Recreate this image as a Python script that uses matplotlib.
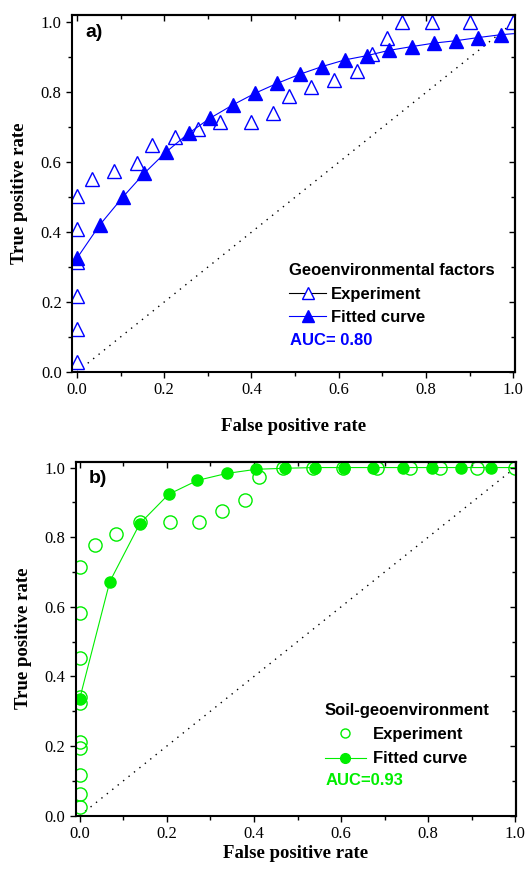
import matplotlib
matplotlib.use('Agg')
import matplotlib.pyplot as plt
from matplotlib.lines import Line2D
from matplotlib.ticker import MultipleLocator

# ---- panel a: geoenvironmental factors ----
a_exp_x = [0.0, 0.0, 0.0, 0.0, 0.0, 0.0, 0.034, 0.086, 0.137, 0.173, 0.225, 0.277,
           0.328, 0.399, 0.450, 0.485, 0.537, 0.589, 0.641, 0.676, 0.710, 0.744,
           0.813, 0.900, 1.0]
a_exp_y = [0.027, 0.124, 0.218, 0.315, 0.408, 0.503, 0.551, 0.576, 0.599, 0.648, 0.672, 0.694,
           0.716, 0.716, 0.740, 0.791, 0.814, 0.836, 0.862, 0.909, 0.955, 1.0,
           1.0, 1.0, 1.0]
a_fit_x = [0.0, 0.052, 0.105, 0.154, 0.204, 0.256, 0.305, 0.357, 0.409, 0.459, 0.511,
           0.562, 0.614, 0.664, 0.714, 0.767, 0.818, 0.869, 0.920, 0.971, 1.0]
a_fit_y = [0.325, 0.420, 0.500, 0.568, 0.629, 0.683, 0.726, 0.764, 0.798, 0.826, 0.852,
           0.874, 0.893, 0.905, 0.920, 0.931, 0.941, 0.948, 0.957, 0.965, 0.968]

# ---- panel b: soil-geoenvironment ----
b_exp_x = [0.0, 0.0, 0.0, 0.0, 0.0, 0.0, 0.0, 0.0, 0.0, 0.0, 0.034, 0.084, 0.138,
           0.207, 0.274, 0.326, 0.379, 0.412, 0.467, 0.536, 0.605, 0.682, 0.759,
           0.828, 0.913, 1.0]
b_exp_y = [0.026, 0.062, 0.117, 0.194, 0.213, 0.323, 0.340, 0.453, 0.582, 0.714, 0.777, 0.810, 0.844,
           0.843, 0.843, 0.875, 0.906, 0.974, 1.0, 1.0, 1.0, 1.0, 1.0,
           1.0, 1.0, 1.0]
b_fit_x = [0.0, 0.069, 0.138, 0.204, 0.270, 0.337, 0.405, 0.472, 0.539, 0.606, 0.674,
           0.741, 0.809, 0.876, 0.943, 1.0]
b_fit_y = [0.336, 0.672, 0.839, 0.923, 0.963, 0.983, 0.995, 0.998, 1.0, 1.0, 1.0,
           1.0, 1.0, 1.0, 1.0, 1.0]

BLUE = '#0000ff'
GREEN = '#00ee00'
SERIF = 'Liberation Serif'
SANS = 'Liberation Sans'
LEG_SIZE = 12

fig = plt.figure(figsize=(5.3, 8.71), dpi=100)


def style_axes(ax, xlim, ylim):
    ax.set_xlim(*xlim)
    ax.set_ylim(*ylim)
    ax.xaxis.set_major_locator(MultipleLocator(0.2))
    ax.xaxis.set_minor_locator(MultipleLocator(0.1))
    ax.yaxis.set_major_locator(MultipleLocator(0.2))
    ax.yaxis.set_minor_locator(MultipleLocator(0.1))
    for s in ax.spines.values():
        s.set_linewidth(1.5)
    # bottom/left ticks point out, top/right point in (Origin style)
    ax.tick_params(which='both', bottom=True, left=True, top=False, right=False,
                   direction='out', width=1.0, labelsize=12)
    ax.tick_params(which='major', length=4)
    ax.tick_params(which='minor', length=3)
    for lab in ax.get_xticklabels() + ax.get_yticklabels():
        lab.set_fontfamily(SERIF)
    ax.xaxis.set_major_formatter(lambda v, p: f'{v:.1f}')
    ax.yaxis.set_major_formatter(lambda v, p: f'{v:.1f}')
    sec_x = ax.secondary_xaxis('top')
    sec_y = ax.secondary_yaxis('right')
    sec_x.xaxis.set_major_locator(MultipleLocator(0.2))
    sec_x.xaxis.set_minor_locator(MultipleLocator(0.1))
    sec_y.yaxis.set_major_locator(MultipleLocator(0.2))
    sec_y.yaxis.set_minor_locator(MultipleLocator(0.1))
    for sec in (sec_x, sec_y):
        sec.tick_params(which='both', direction='in', width=1.0, labelsize=0)
        sec.tick_params(which='major', length=4)
        sec.tick_params(which='minor', length=3)
        for s in sec.spines.values():
            s.set_linewidth(1.5)
    sec_x.set_xticklabels([])
    sec_y.set_yticklabels([])
    ax.set_xlabel('False positive rate', fontfamily=SERIF, fontweight='bold', fontsize=13.5)
    ax.set_ylabel('True positive rate', fontfamily=SERIF, fontweight='bold', fontsize=13.5)
    ax.plot([0, 1], [0, 1], color='black', linestyle=(0, (1, 4)), linewidth=1.0)


# ---------- panel a ----------
ax1 = fig.add_axes([0.136, 0.573, 0.836, 0.410])
style_axes(ax1, (-0.011, 1.004), (0.0, 1.022))
ax1.plot(a_exp_x, a_exp_y, linestyle='none', marker='^', markersize=9.5,
         markerfacecolor='white', markeredgecolor=BLUE, markeredgewidth=1.0)
ax1.plot(a_fit_x, a_fit_y, color=BLUE, linewidth=0.8, marker='^', markersize=9.5,
         markerfacecolor=BLUE, markeredgecolor=BLUE, markevery=list(range(len(a_fit_x) - 1)))
ax1.xaxis.labelpad = 14
ax1.yaxis.labelpad = 9
ax1.text(0.03, 0.975, 'a)', transform=ax1.transAxes, fontfamily=SANS, fontweight='bold',
         fontsize=14, va='top', ha='left')
h_exp = Line2D([], [], color='black', linewidth=0.8, marker='^', markersize=9,
               markerfacecolor='white', markeredgecolor=BLUE)
h_fit = Line2D([], [], color=BLUE, linewidth=0.8, marker='^', markersize=9,
               markerfacecolor=BLUE, markeredgecolor=BLUE)
ax1.legend([h_exp, h_fit], ['Experiment', 'Fitted curve'], title='Geoenvironmental factors',
           loc='upper left', bbox_to_anchor=(0.49, 0.304), frameon=False, borderpad=0,
           borderaxespad=0, handlelength=2.2, handletextpad=0.3, labelspacing=0.5,
           alignment='left', prop={'family': SANS, 'weight': 'bold', 'size': LEG_SIZE},
           title_fontproperties={'family': SANS, 'weight': 'bold', 'size': LEG_SIZE})
ax1.text(0.492, 0.089, 'AUC= 0.80', transform=ax1.transAxes, color=BLUE, fontfamily=SANS,
         fontweight='bold', fontsize=LEG_SIZE, va='center', ha='left')

# ---------- panel b ----------
ax2 = fig.add_axes([0.143, 0.0635, 0.831, 0.4065])
style_axes(ax2, (-0.009, 1.002), (0.0, 1.017))
ax2.plot(b_exp_x, b_exp_y, linestyle='none', marker='o', markersize=9.5,
         markerfacecolor='none', markeredgecolor=GREEN, markeredgewidth=1.0)
ax2.plot(b_fit_x, b_fit_y, color=GREEN, linewidth=0.8, marker='o', markersize=8,
         markerfacecolor=GREEN, markeredgecolor=GREEN, markevery=list(range(len(b_fit_x) - 1)))
ax2.xaxis.labelpad = 2
ax2.yaxis.labelpad = 9
ax2.text(0.03, 0.975, 'b)', transform=ax2.transAxes, fontfamily=SANS, fontweight='bold',
         fontsize=14, va='top', ha='left')
h_exp2 = Line2D([], [], linestyle='none', marker='o', markersize=6.5,
                markerfacecolor='white', markeredgecolor=GREEN, markeredgewidth=1.0)
h_fit2 = Line2D([], [], color=GREEN, linewidth=0.8, marker='o', markersize=7,
                markerfacecolor=GREEN, markeredgecolor=GREEN)
ax2.legend([h_exp2, h_fit2], ['Experiment', 'Fitted curve'], title='Soil-geoenvironment',
           loc='upper left', bbox_to_anchor=(0.565, 0.318), frameon=False, borderpad=0,
           borderaxespad=0, handlelength=2.5, handletextpad=0.4, labelspacing=0.55,
           alignment='left', prop={'family': SANS, 'weight': 'bold', 'size': LEG_SIZE},
           title_fontproperties={'family': SANS, 'weight': 'bold', 'size': LEG_SIZE})
ax2.text(0.567, 0.098, 'AUC=0.93', transform=ax2.transAxes, color=GREEN, fontfamily=SANS,
         fontweight='bold', fontsize=LEG_SIZE, va='center', ha='left')

fig.savefig('out.png', dpi=100)
